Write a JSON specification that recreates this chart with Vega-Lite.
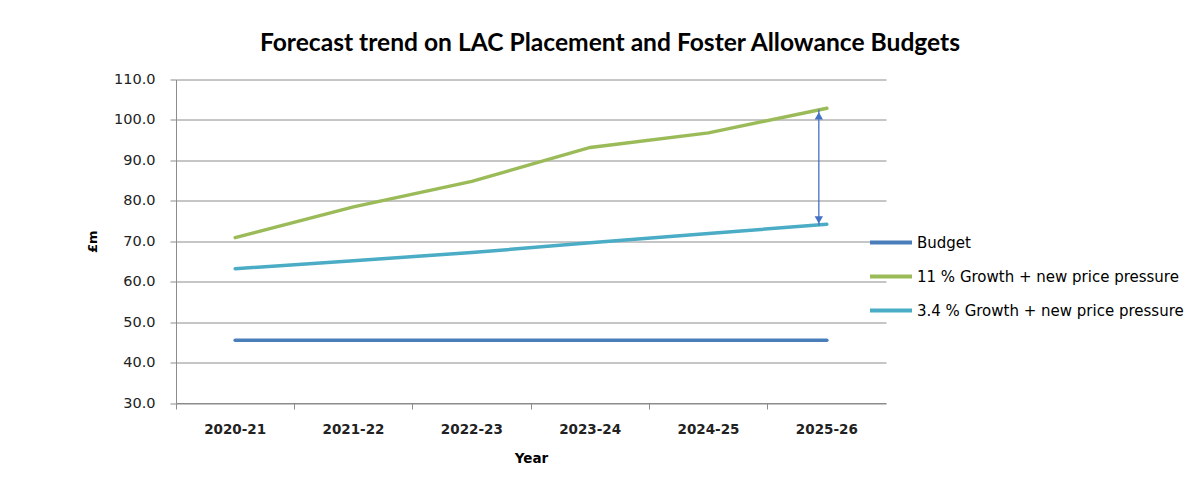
{
  "$schema": "https://vega.github.io/schema/vega-lite/v6.json",
  "autosize": "none",
  "width": 710,
  "height": 323.5,
  "padding": {"left": 176, "top": 79.5, "right": 318, "bottom": 79},
  "background": "white",
  "title": {
    "text": "Forecast trend on LAC Placement and Foster Allowance Budgets",
    "font": "Lato",
    "fontSize": 24.6,
    "fontWeight": "bold",
    "color": "#000000",
    "anchor": "middle",
    "dx": 79,
    "offset": 15
  },
  "datasets": {
    "series": [
      {"year": "2020-21", "series": "Budget", "value": 45.5},
      {"year": "2021-22", "series": "Budget", "value": 45.5},
      {"year": "2022-23", "series": "Budget", "value": 45.5},
      {"year": "2023-24", "series": "Budget", "value": 45.5},
      {"year": "2024-25", "series": "Budget", "value": 45.5},
      {"year": "2025-26", "series": "Budget", "value": 45.5},
      {"year": "2020-21", "series": "11 % Growth + new price pressure", "value": 70.9},
      {"year": "2021-22", "series": "11 % Growth + new price pressure", "value": 78.5},
      {"year": "2022-23", "series": "11 % Growth + new price pressure", "value": 84.8},
      {"year": "2023-24", "series": "11 % Growth + new price pressure", "value": 93.2},
      {"year": "2024-25", "series": "11 % Growth + new price pressure", "value": 96.8},
      {"year": "2025-26", "series": "11 % Growth + new price pressure", "value": 102.9},
      {"year": "2020-21", "series": "3.4 % Growth + new price pressure", "value": 63.2},
      {"year": "2021-22", "series": "3.4 % Growth + new price pressure", "value": 65.2},
      {"year": "2022-23", "series": "3.4 % Growth + new price pressure", "value": 67.2},
      {"year": "2023-24", "series": "3.4 % Growth + new price pressure", "value": 69.6},
      {"year": "2024-25", "series": "3.4 % Growth + new price pressure", "value": 71.9},
      {"year": "2025-26", "series": "3.4 % Growth + new price pressure", "value": 74.2}
    ],
    "arrow": [
      {"year": "2025-26", "low": 73.9, "high": 102.6}
    ],
    "heads": [
      {"year": "2025-26", "value": 101.0, "shape": "triangle-up"},
      {"year": "2025-26", "value": 75.3, "shape": "triangle-down"}
    ]
  },
  "encoding": {
    "x": {
      "field": "year",
      "type": "ordinal",
      "title": "Year",
      "scale": {"type": "band", "paddingInner": 0, "paddingOuter": 0},
      "axis": {
        "bandPosition": 0,
        "labelAngle": 0,
        "labelAlign": "center",
        "labelFont": "DejaVu Sans",
        "labelFontSize": 13.5,
        "labelFontWeight": "bold",
        "labelColor": "#222222",
        "labelPadding": 13,
        "tickSize": 6,
        "tickColor": "#8c8c8c",
        "domainColor": "#8c8c8c",
        "titleFont": "DejaVu Sans",
        "titleFontSize": 13.5,
        "titleFontWeight": "bold",
        "titleColor": "#000000",
        "titlePadding": 16,
        "grid": false
      }
    }
  },
  "layer": [
    {
      "data": {"name": "series"},
      "mark": {"type": "line", "strokeWidth": 3.5, "strokeCap": "round"},
      "encoding": {
        "y": {
          "field": "value",
          "type": "quantitative",
          "title": "£m",
          "scale": {"domain": [30, 110], "nice": false, "zero": false},
          "axis": {
            "values": [30, 40, 50, 60, 70, 80, 90, 100, 110],
            "format": ".1f",
            "labelFont": "DejaVu Sans",
            "labelFontSize": 14.5,
            "labelColor": "#222222",
            "labelPadding": 15,
            "tickSize": 6,
            "tickColor": "#8c8c8c",
            "domainColor": "#8c8c8c",
            "gridColor": "#8c8c8c",
            "gridWidth": 1,
            "titleFont": "DejaVu Sans",
            "titleFontSize": 13,
            "titleFontWeight": "bold",
            "titleColor": "#000000",
            "titlePadding": 14
          }
        },
        "color": {
          "field": "series",
          "type": "nominal",
          "scale": {
            "domain": ["Budget", "11 % Growth + new price pressure", "3.4 % Growth + new price pressure"],
            "range": ["#4a7ebb", "#9bbb59", "#4bacc6"]
          },
          "legend": {
            "title": null,
            "orient": "none",
            "legendX": 699,
            "legendY": 147,
            "symbolType": "M-1.5,0H1.5",
            "symbolSize": 784,
            "symbolStrokeWidth": 4,
            "labelFont": "DejaVu Sans",
            "labelFontSize": 15,
            "labelColor": "#000000",
            "labelOffset": 10,
            "labelLimit": 400,
            "rowPadding": 10
          }
        }
      }
    },
    {
      "data": {"name": "arrow"},
      "mark": {"type": "rule", "color": "#4472c4", "strokeWidth": 1.3, "xOffset": -8},
      "encoding": {
        "y": {"field": "low", "type": "quantitative"},
        "y2": {"field": "high"}
      }
    },
    {
      "data": {"name": "heads"},
      "mark": {"type": "point", "filled": true, "color": "#4472c4", "opacity": 1, "size": 70, "xOffset": -8},
      "encoding": {
        "y": {"field": "value", "type": "quantitative"},
        "shape": {"field": "shape", "type": "nominal", "scale": null, "legend": null}
      }
    }
  ],
  "config": {
    "view": {"stroke": null},
    "axis": {"gridColor": "#8c8c8c"}
  }
}
